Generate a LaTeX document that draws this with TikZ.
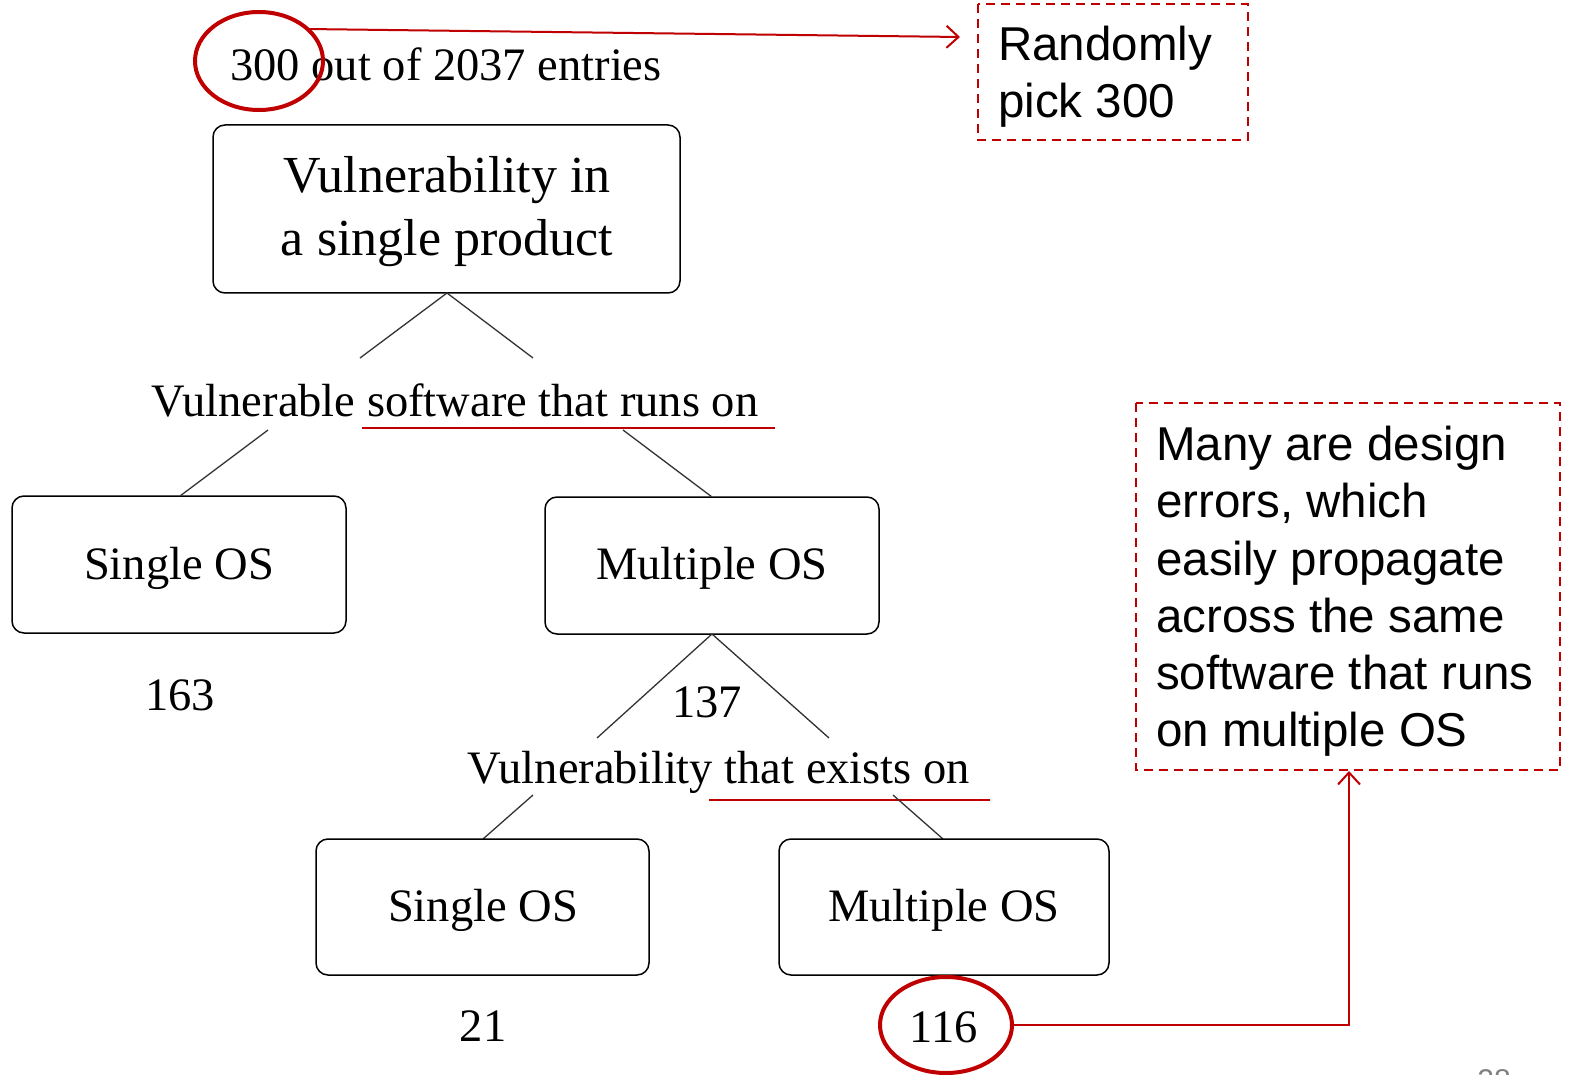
\documentclass[tikz,border=0pt]{standalone}
\usepackage{fontspec}
\setmainfont{Liberation Serif}
\newfontfamily\arialfont{Liberation Sans}
\usetikzlibrary{arrows.meta}
\definecolor{annred}{RGB}{192,0,0}
\begin{document}
\begin{tikzpicture}[x=1pt,y=-1pt,
  serif/.style={font=\fontsize{46.5}{56}\selectfont, inner sep=0pt},
  bigserif/.style={font=\fontsize{52}{63}\selectfont, inner sep=0pt, align=center},
  sans/.style={font=\arialfont\fontsize{47.5}{57.2}\selectfont, inner sep=0pt, align=left},
  rbox/.style={draw=black, line width=1.5pt, rounded corners=12pt},
  branch/.style={draw=black!80, line width=1.3pt},
  redline/.style={draw=annred, line width=2pt},
  redring/.style={draw=annred, line width=4pt},
  reddash/.style={draw=annred, line width=2pt, dash pattern=on 9pt off 6pt},
  redarrow/.style={redline, -{Straight Barb[length=12pt,width=22pt,line width=2pt]}}
]
\useasboundingbox (0,0) rectangle (1572,1075);
\begin{scope}
\clip (0,0) rectangle (1572,1075);

% top text
\node[serif] (top) at (446,64) {300 out of 2037 entries};
\draw[redring] (259,61) ellipse [x radius=64, y radius=49];
\coordinate (ringA) at (306,29);

% randomly box
\draw[reddash] (978,4) rectangle (1248,140);
\node[sans, anchor=west] (rand) at (998,77) {Randomly\\pick 300};
\coordinate (randW) at (960,37);
\draw[redarrow] (ringA) -- (randW);

% root box
\draw[rbox] (213,125) rectangle (680,293);
\node[bigserif] (root) at (447,212) {Vulnerability in\\a single product};
\coordinate (rootS) at (447,293);
\coordinate (l1a) at (360,358);
\coordinate (l1b) at (533,358);
\draw[branch] (l1a) -- (rootS) -- (l1b);

% first question
\node[serif] (q1) at (455,400) {Vulnerable software that runs on};
\draw[redline] (362,428) -- (775,428);
\coordinate (q1l) at (268,430);
\coordinate (q1r) at (623,430);

% level 2 boxes
\draw[rbox] (12,496) rectangle (346,633);
\node[serif] (s1) at (179,568) {Single OS};
\draw[rbox] (545,497) rectangle (879,634);
\node[serif] (m1) at (712,568) {Multiple OS};
\draw[branch] (q1l) -- (180,496);
\draw[branch] (q1r) -- (712,497);

\node[serif] (n163) at (180,695) {163};
\node[serif] (n137) at (707,702) {137};

\coordinate (m1S) at (712,634);
\draw[branch] (597,738) -- (m1S) -- (829,738);

% second question
\node[serif] (q2) at (719,772) {Vulnerability that exists on};
\draw[redline] (709,800) -- (990,800);
\draw[branch] (533,795) -- (483,839);
\draw[branch] (893,795) -- (943,839);

% level 3 boxes
\draw[rbox] (316,839) rectangle (649,975);
\node[serif] (s2) at (483,910) {Single OS};
\draw[rbox] (779,839) rectangle (1109,975);
\node[serif] (m2) at (944,910) {Multiple OS};

\node[serif] (n21) at (483,1026) {21};
\node[serif] (n116) at (944,1027) {116};
\draw[redring] (946,1025) ellipse [x radius=66, y radius=48];

% right note
\draw[reddash] (1136,403) rectangle (1560,770);
\node[sans, anchor=north west] (note) at (1156,426) {Many are design\\errors, which\\easily propagate\\across the same\\software that runs\\on multiple OS};
\coordinate (noteS) at (1349,771);
\coordinate (ring2E) at (1012,1025);
\draw[redarrow] (ring2E) -- (1349,1025) -- (noteS);

% page number
\node[font=\arialfont\fontsize{30}{36}\selectfont, text=gray, inner sep=0pt] (pg) at (1494,1080) {28};
\end{scope}
\end{tikzpicture}
\end{document}
